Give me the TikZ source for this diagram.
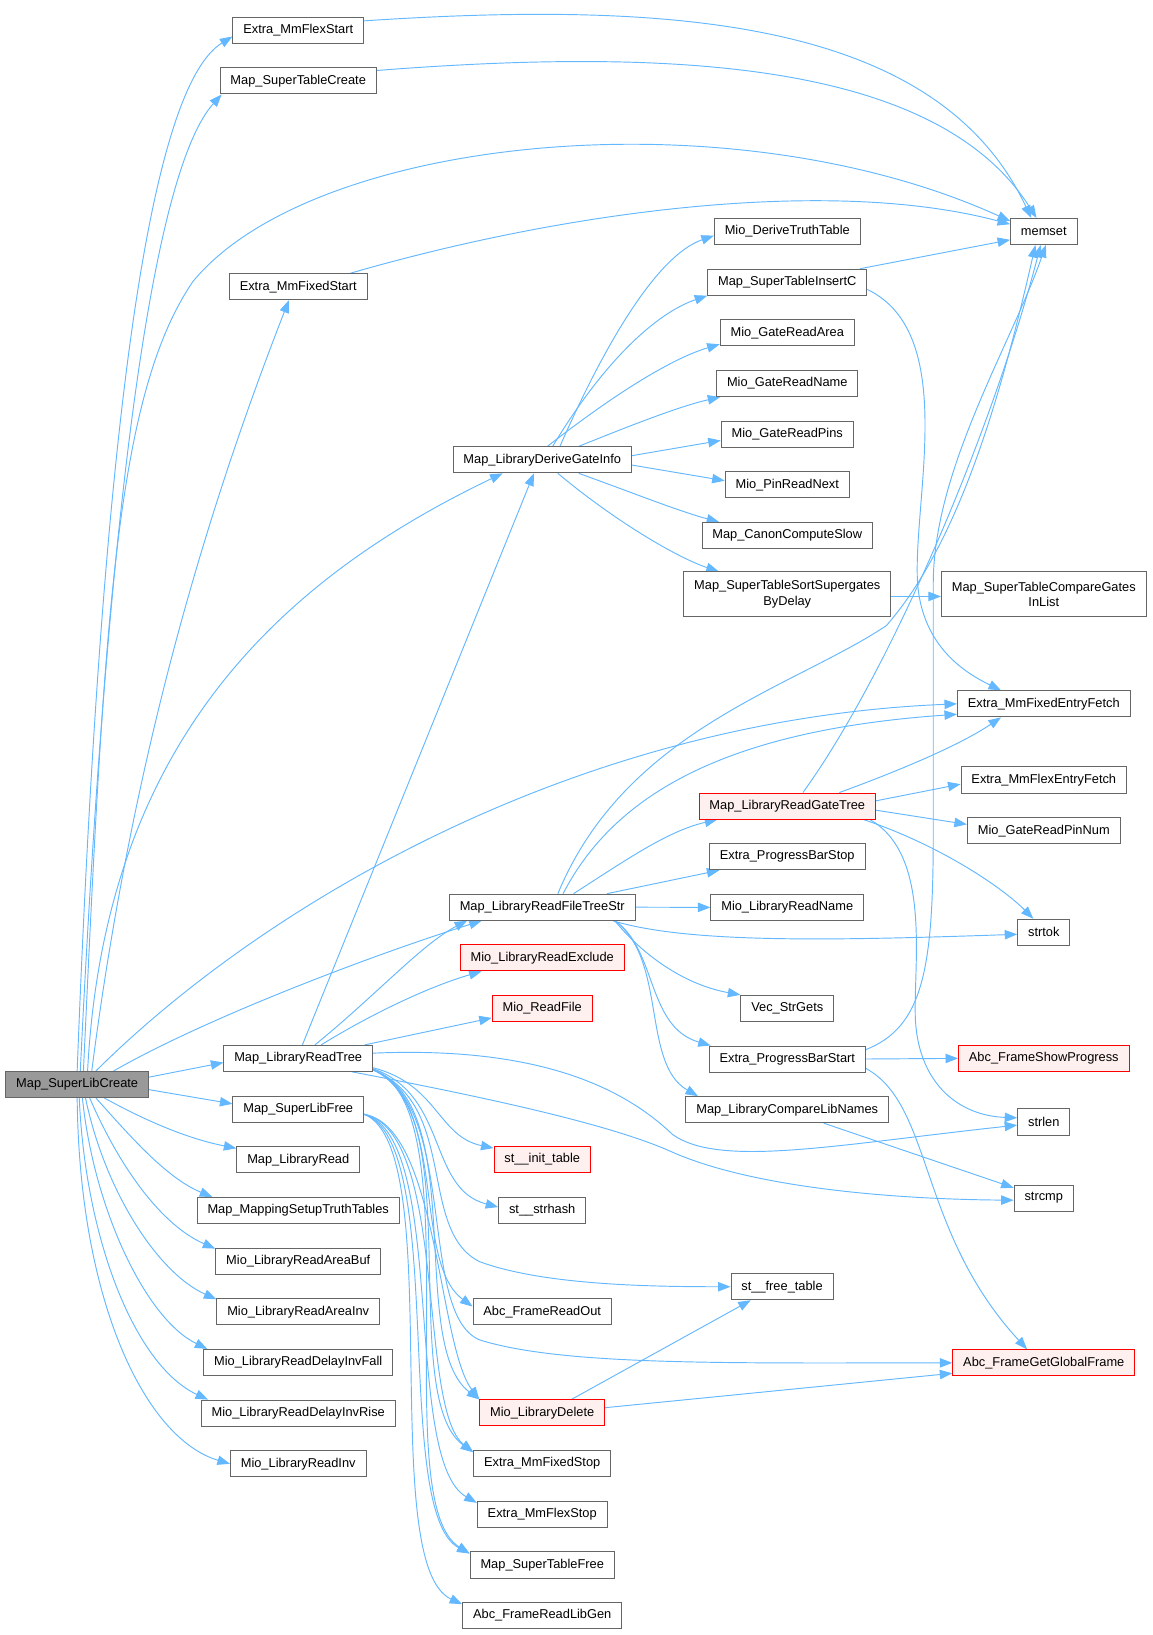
\documentclass[tikz,border=0pt]{standalone}
\usepackage{fontspec}
\setmainfont{Liberation Sans}
\usepackage{xcolor}
\usetikzlibrary{arrows.meta, positioning, backgrounds}
\definecolor{edgeblue}{HTML}{63B8FF}
\definecolor{boxgray}{HTML}{666666}
\definecolor{rootgray}{HTML}{999999}
\definecolor{redfill}{HTML}{FFF0F0}

\begin{document}
\begin{tikzpicture}[
    x=1pt, y=1pt,
    node distance=22.7pt,
    fn/.style={rectangle, draw=boxgray, fill=white, line width=0.9pt, minimum height=25pt, inner xsep=10pt, inner ysep=2pt, align=center, font=\fontsize{12.3}{15}\selectfont},
    fnred/.style={fn, draw=red, fill=redfill},
    fnroot/.style={fn, fill=rootgray},
    arr/.style={-{Triangle[length=12pt, width=9pt]}, line width=0.9pt, color=edgeblue}
]
\useasboundingbox (0,0) rectangle (1105,-1568);

\node[fnroot] (create) at (74,-1040) {Map\_SuperLibCreate};

\node[fn] (flexstart) at (286,-29) {Extra\_MmFlexStart};
\node[fn, below=of flexstart] (tblcreate) {Map\_SuperTableCreate};
\node[fn] (fixedstart) at (286,-275) {Extra\_MmFixedStart};
\node[fn] (readtree) at (286,-1015) {Map\_LibraryReadTree};
\node[fn, below=of readtree] (libfree) {Map\_SuperLibFree};
\node[fn, below=of libfree] (libread) {Map\_LibraryRead};
\node[fn, below=of libread] (setuptt) {Map\_MappingSetupTruthTables};
\node[fn, below=of setuptt] (areabuf) {Mio\_LibraryReadAreaBuf};
\node[fn, below=of areabuf] (areainv) {Mio\_LibraryReadAreaInv};
\node[fn, below=of areainv] (invfall) {Mio\_LibraryReadDelayInvFall};
\node[fn, below=of invfall] (invrise) {Mio\_LibraryReadDelayInvRise};
\node[fn, below=of invrise] (readinv) {Mio\_LibraryReadInv};

\node[fn] (derive) at (520,-441) {Map\_LibraryDeriveGateInfo};
\node[fn] (filetree) at (520,-870) {Map\_LibraryReadFileTreeStr};
\node[fnred, below=of filetree] (exclude) {Mio\_LibraryReadExclude};
\node[fnred, below=of exclude] (readfile) {Mio\_ReadFile};
\node[fnred] (inittable) at (520,-1112) {st\_\_init\_table};
\node[fn, below=of inittable] (strhash) {st\_\_strhash};
\node[fn] (readout) at (520,-1258) {Abc\_FrameReadOut};
\node[fnred] (libdelete) at (520,-1355) {Mio\_LibraryDelete};
\node[fn, below=of libdelete] (fixedstop) {Extra\_MmFixedStop};
\node[fn, below=of fixedstop] (flexstop) {Extra\_MmFlexStop};
\node[fn, below=of flexstop] (tblfree) {Map\_SuperTableFree};
\node[fn, below=of tblfree] (readlibgen) {Abc\_FrameReadLibGen};

\node[fn] (truthtbl) at (755,-222) {Mio\_DeriveTruthTable};
\node[fn, below=of truthtbl] (insertc) {Map\_SuperTableInsertC};
\node[fn, below=of insertc] (gatearea) {Mio\_GateReadArea};
\node[fn, below=of gatearea] (gatename) {Mio\_GateReadName};
\node[fn, below=of gatename] (gatepins) {Mio\_GateReadPins};
\node[fn, below=of gatepins] (pinnext) {Mio\_PinReadNext};
\node[fn, below=of pinnext] (canon) {Map\_CanonComputeSlow};
\node[fn, minimum height=43pt] (sortsg) at (755,-570) {Map\_SuperTableSortSupergates\\ByDelay};
\node[fnred] (gatetree) at (755,-773) {Map\_LibraryReadGateTree};
\node[fn, below=of gatetree] (barstop) {Extra\_ProgressBarStop};
\node[fn, below=of barstop] (libname) {Mio\_LibraryReadName};
\node[fn] (strgets) at (755,-967) {Vec\_StrGets};
\node[fn, below=of strgets] (barstart) {Extra\_ProgressBarStart};
\node[fn, below=of barstart] (cmplib) {Map\_LibraryCompareLibNames};
\node[fn] (freetable) at (750,-1234) {st\_\_free\_table};

\node[fn] (memset) at (1001,-222) {memset};
\node[fn, minimum height=43pt] (cmpgates) at (1001,-570) {Map\_SuperTableCompareGates\\InList};
\node[fn] (fixedfetch) at (1001,-675) {Extra\_MmFixedEntryFetch};
\node[fn] (flexfetch) at (1001,-748) {Extra\_MmFlexEntryFetch};
\node[fn, below=of flexfetch] (pinnum) {Mio\_GateReadPinNum};
\node[fn] (strtok) at (1001,-894) {strtok};
\node[fnred] (showprog) at (1001,-1015) {Abc\_FrameShowProgress};
\node[fn] (strlen) at (1001,-1076) {strlen};
\node[fn] (strcmp) at (1001,-1149) {strcmp};
\node[fnred] (globalframe) at (1001,-1307) {Abc\_FrameGetGlobalFrame};

\begin{scope}[on background layer]
\fill[white] (0,0) rectangle (1105,-1568);

\draw[arr] (create.north) .. controls (100,-350) and (150,-80) .. ([yshift=-6]flexstart.west);
\draw[arr] ([xshift=3]create.north) .. controls (105,-450) and (150,-160) .. ([xshift=2]tblcreate.south west);
\draw[arr] ([xshift=6]create.north) .. controls (100,-600) and (110,-380) .. (185,-270) .. controls (300,-130) and (700,-90) .. ([yshift=10]memset.west);
\draw[arr] ([xshift=14]create.north) .. controls (130,-700) and (210,-460) .. ([xshift=-9]fixedstart.south);
\draw[arr] ([xshift=10]create.north) .. controls (100,-720) and (260,-560) .. ([xshift=-38]derive.south);
\draw[arr] ([xshift=18]create.north) .. controls (250,-870) and (550,-690) .. (fixedfetch.west);
\draw[arr] ([xshift=35]create.north) .. controls (200,-975) and (360,-915) .. ([xshift=-58]filetree.south);
\draw[arr] ([yshift=7]create.east) -- ([yshift=-4]readtree.west);
\draw[arr] ([yshift=-5]create.east) -- ([yshift=5]libfree.west);
\draw[arr] ([xshift=26]create.south) .. controls (140,-1075) and (180,-1092) .. ([yshift=-2]libread.north west);
\draw[arr] ([xshift=18]create.south) .. controls (125,-1090) and (160,-1130) .. ([xshift=15]setuptt.north west);
\draw[arr] ([xshift=12]create.south) .. controls (115,-1120) and (155,-1175) .. ([yshift=-1]areabuf.north west);
\draw[arr] ([xshift=8]create.south) .. controls (100,-1140) and (150,-1220) .. ([yshift=-1]areainv.north west);
\draw[arr] ([xshift=5]create.south) .. controls (90,-1160) and (140,-1265) .. ([xshift=4]invfall.north west);
\draw[arr] ([xshift=2]create.south) .. controls (82,-1190) and (130,-1310) .. ([xshift=7]invrise.north west);
\draw[arr] (create.south) .. controls (76,-1250) and (140,-1380) .. (readinv.west);

\draw[arr] ([yshift=9]flexstart.east) .. controls (650,0) and (900,-20) .. ([xshift=-12]memset.north);
\draw[arr] ([yshift=10]tblcreate.east) .. controls (650,-45) and (900,-60) .. ([xshift=-7]memset.north);
\draw[arr] ([xshift=50]fixedstart.north) .. controls (550,-200) and (800,-170) .. ([yshift=7]memset.west);

\draw[arr] ([xshift=17]derive.north) .. controls (580,-330) and (630,-245) .. ([yshift=-4]truthtbl.west);
\draw[arr] ([xshift=10]derive.north) .. controls (580,-345) and (630,-300) .. (insertc.south west);
\draw[arr] ([xshift=5]derive.north) .. controls (580,-385) and (640,-345) .. ([yshift=2]gatearea.south west);
\draw[arr] ([xshift=35]derive.north) .. controls (600,-410) and (650,-390) .. ([xshift=4]gatename.south west);
\draw[arr] ([yshift=4]derive.east) -- ([yshift=-6]gatepins.west);
\draw[arr] ([yshift=-5]derive.east) -- ([yshift=4]pinnext.west);
\draw[arr] ([xshift=35]derive.south) .. controls (600,-470) and (650,-490) .. ([xshift=17]canon.north west);
\draw[arr] ([xshift=15]derive.south) .. controls (590,-500) and (650,-535) .. ([xshift=34]sortsg.north west);
\draw[arr] ([yshift=-2]sortsg.east) -- ([yshift=-2]cmpgates.west);
\draw[arr] ([xshift=70]insertc.north) -- ([yshift=-8]memset.west);
\draw[arr] ([yshift=-7]insertc.east) .. controls (920,-320) and (875,-480) .. (880,-560) .. controls (885,-620) and (925,-645) .. ([xshift=-41]fixedfetch.north);

\draw[arr] ([xshift=15]filetree.north) .. controls (600,-700) and (760,-660) .. (850,-600) .. controls (920,-520) and (960,-380) .. ([xshift=-8]memset.south);
\draw[arr] ([xshift=20]filetree.north) .. controls (590,-760) and (700,-700) .. ([yshift=-10]fixedfetch.west);
\draw[arr] ([xshift=30]filetree.north) .. controls (600,-825) and (640,-797) .. ([xshift=18]gatetree.south west);
\draw[arr] ([xshift=62]filetree.north) -- ([xshift=10]barstop.south west);
\draw[arr] (filetree.east) -- (libname.west);
\draw[arr] ([xshift=-22]filetree.south east) .. controls (660,-905) and (800,-902) .. ([yshift=-2]strtok.west);
\draw[arr] ([xshift=-20]filetree.south east) .. controls (620,-920) and (660,-945) .. (strgets.north west);
\draw[arr] ([xshift=-20]filetree.south east) .. controls (630,-910) and (620,-985) .. ([xshift=2]barstart.north west);
\draw[arr] ([xshift=-20]filetree.south east) .. controls (640,-920) and (615,-1020) .. ([xshift=12]cmplib.north west);

\draw[arr] ([xshift=15]gatetree.north) .. controls (850,-650) and (950,-420) .. ([xshift=-3]memset.south);
\draw[arr] ([xshift=50]gatetree.north) .. controls (860,-740) and (920,-715) .. ([xshift=-41]fixedfetch.south);
\draw[arr] ([yshift=5]gatetree.east) -- ([yshift=-4]flexfetch.west);
\draw[arr] ([yshift=-4]gatetree.east) -- ([yshift=6]pinnum.west);
\draw[arr] ([xshift=-12]gatetree.south east) .. controls (900,-810) and (960,-850) .. ([xshift=-10]strtok.north);
\draw[arr] ([xshift=-6]gatetree.south east) .. controls (895,-820) and (875,-930) .. (878,-980) .. controls (882,-1040) and (920,-1070) .. ([yshift=4]strlen.west);

\draw[arr] ([yshift=9]barstart.east) .. controls (885,-985) and (895,-930) .. (895,-800) -- (895,-560) .. controls (895,-450) and (970,-330) .. ([xshift=2]memset.south);
\draw[arr] (barstart.east) -- (showprog.west);
\draw[arr] ([yshift=-9]barstart.east) .. controls (895,-1060) and (880,-1180) .. ([xshift=-16]globalframe.north);
\draw[arr] ([xshift=35]cmplib.south) -- ([yshift=-3]strcmp.north west);

\draw[arr] ([xshift=4]readtree.north) -- ([xshift=-8]derive.south);
\draw[arr] ([xshift=16]readtree.north) .. controls (360,-955) and (405,-905) .. ([xshift=-72]filetree.south);
\draw[arr] ([xshift=22]readtree.north) .. controls (360,-970) and (415,-945) .. ([xshift=21]exclude.south west);
\draw[arr] ([xshift=-8]readtree.north east) -- ([yshift=-9]readfile.west);
\draw[arr] ([yshift=5]readtree.east) .. controls (520,-1003) and (600,-1045) .. (645,-1088) .. controls (690,-1120) and (800,-1098) .. ([yshift=-3]strlen.west);
\draw[arr] ([xshift=-20]readtree.south east) .. controls (480,-1055) and (590,-1080) .. (645,-1105) .. controls (720,-1138) and (850,-1150) .. ([yshift=-2]strcmp.west);
\draw[arr] ([yshift=-9]readtree.east) .. controls (420,-1040) and (420,-1090) .. ([yshift=-2]inittable.north west);
\draw[arr] ([yshift=-10]readtree.east) .. controls (430,-1050) and (410,-1140) .. ([yshift=3]strhash.west);
\draw[arr] ([yshift=-11]readtree.east) .. controls (440,-1060) and (400,-1180) .. (460,-1210) .. controls (520,-1232) and (620,-1234) .. (freetable.west);
\draw[arr] ([yshift=-11]readtree.east) .. controls (430,-1060) and (395,-1210) .. ([yshift=5]readout.west);
\draw[arr] ([yshift=-11]readtree.east) .. controls (440,-1060) and (400,-1260) .. (460,-1285) .. controls (540,-1310) and (700,-1307) .. (globalframe.west);
\draw[arr] ([yshift=-11]readtree.east) .. controls (450,-1060) and (390,-1290) .. (libdelete.north west);
\draw[arr] ([yshift=-11]readtree.east) .. controls (450,-1060) and (380,-1340) .. ([yshift=-2]fixedstop.north west);
\draw[arr] ([yshift=-11]readtree.east) .. controls (455,-1060) and (370,-1440) .. ([yshift=-2]tblfree.north west);

\draw[arr] ([yshift=-5]libfree.east) .. controls (420,-1080) and (420,-1290) .. (libdelete.north west);
\draw[arr] ([yshift=-5]libfree.east) .. controls (430,-1085) and (400,-1350) .. ([yshift=-2]fixedstop.north west);
\draw[arr] ([yshift=-5]libfree.east) .. controls (430,-1090) and (385,-1400) .. ([yshift=-2]flexstop.north west);
\draw[arr] ([yshift=-5]libfree.east) .. controls (430,-1095) and (375,-1450) .. ([yshift=-2]tblfree.north west);
\draw[arr] ([yshift=-5]libfree.east) .. controls (430,-1100) and (360,-1500) .. ([yshift=-2]readlibgen.north west);

\draw[arr] ([xshift=28]libdelete.north) -- ([xshift=-30]freetable.south);
\draw[arr] ([yshift=5]libdelete.east) -- ([yshift=-10]globalframe.west);
\end{scope}

\end{tikzpicture}
\end{document}
